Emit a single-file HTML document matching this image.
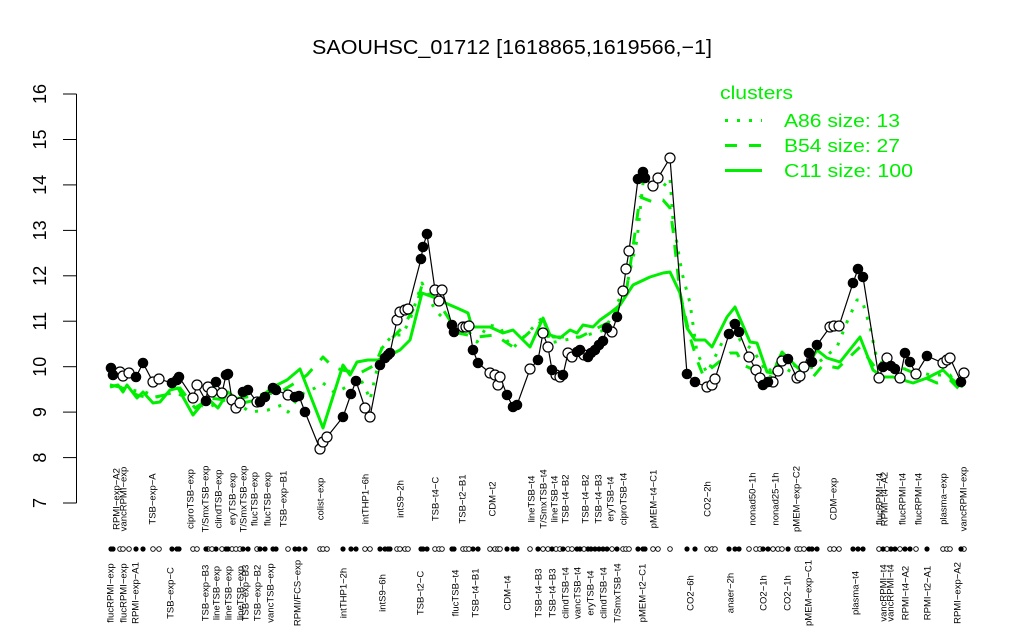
<!DOCTYPE html>
<html><head><meta charset="utf-8"><style>
html,body{margin:0;padding:0;background:#fff;}
svg{display:block;font-family:"Liberation Sans",Arial,sans-serif;}
</style></head><body>
<svg width="1024" height="640" viewBox="0 0 1024 640" xmlns="http://www.w3.org/2000/svg">
<rect width="1024" height="640" fill="#fff"/>
<text x="512" y="54" font-size="20" text-anchor="middle" textLength="400" lengthAdjust="spacingAndGlyphs" fill="#000">SAOUHSC_01712 [1618865,1619566,−1]</text>
<!-- y axis -->
<g stroke="#000" stroke-width="1" fill="none">
<line x1="76.5" y1="94" x2="76.5" y2="503"/>
<line x1="63" y1="503" x2="76.5" y2="503"/>
<line x1="63" y1="457.6" x2="76.5" y2="457.6"/>
<line x1="63" y1="412.1" x2="76.5" y2="412.1"/>
<line x1="63" y1="366.7" x2="76.5" y2="366.7"/>
<line x1="63" y1="321.2" x2="76.5" y2="321.2"/>
<line x1="63" y1="275.8" x2="76.5" y2="275.8"/>
<line x1="63" y1="230.4" x2="76.5" y2="230.4"/>
<line x1="63" y1="184.9" x2="76.5" y2="184.9"/>
<line x1="63" y1="139.5" x2="76.5" y2="139.5"/>
<line x1="63" y1="94" x2="76.5" y2="94"/>
</g>
<g font-size="18" fill="#000" text-anchor="middle">
<text transform="translate(46,503) rotate(-90)">7</text>
<text transform="translate(46,457.6) rotate(-90)">8</text>
<text transform="translate(46,412.1) rotate(-90)">9</text>
<text transform="translate(46,366.7) rotate(-90)">10</text>
<text transform="translate(46,321.2) rotate(-90)">11</text>
<text transform="translate(46,275.8) rotate(-90)">12</text>
<text transform="translate(46,230.4) rotate(-90)">13</text>
<text transform="translate(46,184.9) rotate(-90)">14</text>
<text transform="translate(46,139.5) rotate(-90)">15</text>
<text transform="translate(46,94) rotate(-90)">16</text>
</g>
<!-- green cluster lines -->
<g fill="none" stroke="#00ee00" stroke-width="3" stroke-linejoin="round">
<polyline stroke-dasharray="3 9" points="110,385 130,390 145,392 157,397 175,392 190,400 207,408 225,400 240,405 250,412 268,410 282,405 288,412 300,395 315,388 323,383 335,393 350,385 360,378 367,392 370,400 382,347 393,335 402,335 410,320 422,283 435,310 445,320 465,327 477,342 488,325 500,327 508,342 513,348 543,317 550,343 580,337 605,330 628,280 637,240 643,183 663,187 670,178 673,220 682,273 690,303 697,353 707,373 720,347 732,320 740,340 753,350 767,373 777,363 793,373 813,367 837,347 847,322 857,300 862,300 870,327 877,360 890,367 913,370 930,375 950,375 962,393"/>
<polyline stroke-dasharray="12 12" points="110,385 125,388 137,395 150,398 165,395 180,388 195,408 210,398 225,400 240,398 260,395 280,392 300,380 307,375 323,357 333,367 342,370 360,373 375,365 382,348 403,327 417,303 422,285 437,300 458,333 477,337 495,335 513,347 543,320 553,337 580,337 613,320 627,287 633,247 640,197 653,202 663,200 670,208 673,230 680,293 690,337 697,360 703,375 730,353 737,353 743,365 750,368 767,383 780,357 797,367 813,377 823,365 838,368 860,347 877,370 887,363 907,370 937,383 950,380 963,393"/>
<polyline points="110,387 118,385 123,392 127,385 137,398 143,392 153,403 160,402 170,390 178,388 193,415 207,398 218,408 228,392 242,403 257,400 273,387 287,380 300,369 323,428 343,365 350,375 357,362 368,360 378,360 390,355 400,350 410,340 422,293 433,297 443,302 457,308 468,313 472,327 490,327 503,333 513,330 530,347 543,318 550,335 560,338 570,330 577,333 583,325 593,327 600,320 610,313 620,305 633,285 650,277 663,273 670,272 680,293 687,328 695,340 705,340 712,347 727,317 735,307 750,342 757,343 767,372 773,373 782,352 790,360 803,373 817,350 827,358 840,362 860,337 873,370 883,377 893,377 913,383 927,378 943,370 953,380 963,387"/>
</g>
<!-- black series line -->
<polyline fill="none" stroke="#000" stroke-width="1.2" points="111,368 113,375 120,372 123,376 129,373 136,377 143,363 153,382 159,379 172,383 177,380 179,377 193,398 197,385 206,401 208,387 212,392 216,382 222,393 226,375 228,374 232,400 236,408 240,403 243,392 248,390 257,402 260,402 265,397 273,388 276,390 288,395 295,397 299,396 305,412 320,449 323,442 327,437 343,417 351,394 356,381 365,408 370,417 380,365 385,358 388,355 390,353 397,320 400,312 405,310 408,309 421,259 423,247 427,234 435,290 439,301 442,290 452,325 454,332 463,327 466,327 469,326 473,350 478,363 490,373 495,375 498,385 500,377 507,395 513,407 517,405 530,369 538,360 543,333 548,347 552,370 556,375 560,377 563,375 568,353 572,357 577,352 580,350 584,355 588,357 591,353 595,350 599,345 603,341 607,328 612,332 617,317 623,291 626,269 629,251 638,179 643,172 645,178 653,186 658,178 670,158 687,374 695,382 707,387 712,385 715,379 729,334 735,324 739,332 749,357 756,370 760,378 763,385 768,382 773,382 778,371 782,361 788,359 797,378 800,376 804,367 809,353 812,362 817,345 830,327 834,326 839,326 853,283 858,269 863,277 879,378 883,367 887,358 891,366 895,369 900,378 905,353 910,362 916,374 927,356 943,363 947,360 950,358 961,382 964,373"/>
<!-- open points -->
<g fill="#fff" stroke="#000" stroke-width="1.2">
<circle cx="120" cy="372" r="5"/><circle cx="123" cy="376" r="5"/><circle cx="129" cy="373" r="5"/><circle cx="153" cy="382" r="5"/><circle cx="159" cy="379" r="5"/><circle cx="193" cy="398" r="5"/><circle cx="197" cy="385" r="5"/><circle cx="208" cy="387" r="5"/><circle cx="212" cy="392" r="5"/><circle cx="222" cy="393" r="5"/><circle cx="232" cy="400" r="5"/><circle cx="236" cy="408" r="5"/><circle cx="240" cy="403" r="5"/><circle cx="257" cy="402" r="5"/><circle cx="288" cy="395" r="5"/><circle cx="320" cy="449" r="5"/><circle cx="323" cy="442" r="5"/><circle cx="327" cy="437" r="5"/><circle cx="365" cy="408" r="5"/><circle cx="370" cy="417" r="5"/><circle cx="397" cy="320" r="5"/><circle cx="400" cy="312" r="5"/><circle cx="405" cy="310" r="5"/><circle cx="408" cy="309" r="5"/><circle cx="435" cy="290" r="5"/><circle cx="439" cy="301" r="5"/><circle cx="442" cy="290" r="5"/><circle cx="463" cy="327" r="5"/><circle cx="466" cy="327" r="5"/><circle cx="469" cy="326" r="5"/><circle cx="490" cy="373" r="5"/><circle cx="495" cy="375" r="5"/><circle cx="498" cy="385" r="5"/><circle cx="500" cy="377" r="5"/><circle cx="530" cy="369" r="5"/><circle cx="543" cy="333" r="5"/><circle cx="548" cy="347" r="5"/><circle cx="556" cy="375" r="5"/><circle cx="560" cy="377" r="5"/><circle cx="568" cy="353" r="5"/><circle cx="572" cy="357" r="5"/><circle cx="584" cy="355" r="5"/><circle cx="612" cy="332" r="5"/><circle cx="623" cy="291" r="5"/><circle cx="626" cy="269" r="5"/><circle cx="629" cy="251" r="5"/><circle cx="653" cy="186" r="5"/><circle cx="658" cy="178" r="5"/><circle cx="670" cy="158" r="5"/><circle cx="707" cy="387" r="5"/><circle cx="712" cy="385" r="5"/><circle cx="715" cy="379" r="5"/><circle cx="749" cy="357" r="5"/><circle cx="756" cy="370" r="5"/><circle cx="760" cy="378" r="5"/><circle cx="773" cy="382" r="5"/><circle cx="778" cy="371" r="5"/><circle cx="782" cy="361" r="5"/><circle cx="797" cy="378" r="5"/><circle cx="800" cy="376" r="5"/><circle cx="804" cy="367" r="5"/><circle cx="830" cy="327" r="5"/><circle cx="834" cy="326" r="5"/><circle cx="839" cy="326" r="5"/><circle cx="879" cy="378" r="5"/><circle cx="887" cy="358" r="5"/><circle cx="900" cy="378" r="5"/><circle cx="916" cy="374" r="5"/><circle cx="943" cy="363" r="5"/><circle cx="947" cy="360" r="5"/><circle cx="950" cy="358" r="5"/><circle cx="964" cy="373" r="5"/>
</g>
<!-- filled points -->
<g fill="#000">
<circle cx="111" cy="368" r="5.3"/><circle cx="113" cy="375" r="5.3"/><circle cx="136" cy="377" r="5.3"/><circle cx="143" cy="363" r="5.3"/><circle cx="172" cy="383" r="5.3"/><circle cx="177" cy="380" r="5.3"/><circle cx="179" cy="377" r="5.3"/><circle cx="206" cy="401" r="5.3"/><circle cx="216" cy="382" r="5.3"/><circle cx="226" cy="375" r="5.3"/><circle cx="228" cy="374" r="5.3"/><circle cx="243" cy="392" r="5.3"/><circle cx="248" cy="390" r="5.3"/><circle cx="260" cy="402" r="5.3"/><circle cx="265" cy="397" r="5.3"/><circle cx="273" cy="388" r="5.3"/><circle cx="276" cy="390" r="5.3"/><circle cx="295" cy="397" r="5.3"/><circle cx="299" cy="396" r="5.3"/><circle cx="305" cy="412" r="5.3"/><circle cx="343" cy="417" r="5.3"/><circle cx="351" cy="394" r="5.3"/><circle cx="356" cy="381" r="5.3"/><circle cx="380" cy="365" r="5.3"/><circle cx="385" cy="358" r="5.3"/><circle cx="388" cy="355" r="5.3"/><circle cx="390" cy="353" r="5.3"/><circle cx="421" cy="259" r="5.3"/><circle cx="423" cy="247" r="5.3"/><circle cx="427" cy="234" r="5.3"/><circle cx="452" cy="325" r="5.3"/><circle cx="454" cy="332" r="5.3"/><circle cx="473" cy="350" r="5.3"/><circle cx="478" cy="363" r="5.3"/><circle cx="507" cy="395" r="5.3"/><circle cx="513" cy="407" r="5.3"/><circle cx="517" cy="405" r="5.3"/><circle cx="538" cy="360" r="5.3"/><circle cx="552" cy="370" r="5.3"/><circle cx="563" cy="375" r="5.3"/><circle cx="577" cy="352" r="5.3"/><circle cx="580" cy="350" r="5.3"/><circle cx="588" cy="357" r="5.3"/><circle cx="591" cy="353" r="5.3"/><circle cx="595" cy="350" r="5.3"/><circle cx="599" cy="345" r="5.3"/><circle cx="603" cy="341" r="5.3"/><circle cx="607" cy="328" r="5.3"/><circle cx="617" cy="317" r="5.3"/><circle cx="638" cy="179" r="5.3"/><circle cx="643" cy="172" r="5.3"/><circle cx="645" cy="178" r="5.3"/><circle cx="687" cy="374" r="5.3"/><circle cx="695" cy="382" r="5.3"/><circle cx="729" cy="334" r="5.3"/><circle cx="735" cy="324" r="5.3"/><circle cx="739" cy="332" r="5.3"/><circle cx="763" cy="385" r="5.3"/><circle cx="768" cy="382" r="5.3"/><circle cx="788" cy="359" r="5.3"/><circle cx="809" cy="353" r="5.3"/><circle cx="812" cy="362" r="5.3"/><circle cx="817" cy="345" r="5.3"/><circle cx="853" cy="283" r="5.3"/><circle cx="858" cy="269" r="5.3"/><circle cx="863" cy="277" r="5.3"/><circle cx="883" cy="367" r="5.3"/><circle cx="891" cy="366" r="5.3"/><circle cx="895" cy="369" r="5.3"/><circle cx="905" cy="353" r="5.3"/><circle cx="910" cy="362" r="5.3"/><circle cx="927" cy="356" r="5.3"/><circle cx="961" cy="382" r="5.3"/>
</g>
<!-- bottom marker row -->
<g fill="#fff" stroke="#000" stroke-width="0.9">
<circle cx="120" cy="549" r="2.3"/><circle cx="123" cy="549" r="2.3"/><circle cx="129" cy="549" r="2.3"/><circle cx="153" cy="549" r="2.3"/><circle cx="159" cy="549" r="2.3"/><circle cx="193" cy="549" r="2.3"/><circle cx="197" cy="549" r="2.3"/><circle cx="208" cy="549" r="2.3"/><circle cx="212" cy="549" r="2.3"/><circle cx="222" cy="549" r="2.3"/><circle cx="232" cy="549" r="2.3"/><circle cx="236" cy="549" r="2.3"/><circle cx="240" cy="549" r="2.3"/><circle cx="257" cy="549" r="2.3"/><circle cx="288" cy="549" r="2.3"/><circle cx="320" cy="549" r="2.3"/><circle cx="323" cy="549" r="2.3"/><circle cx="327" cy="549" r="2.3"/><circle cx="365" cy="549" r="2.3"/><circle cx="370" cy="549" r="2.3"/><circle cx="397" cy="549" r="2.3"/><circle cx="400" cy="549" r="2.3"/><circle cx="405" cy="549" r="2.3"/><circle cx="408" cy="549" r="2.3"/><circle cx="435" cy="549" r="2.3"/><circle cx="439" cy="549" r="2.3"/><circle cx="442" cy="549" r="2.3"/><circle cx="463" cy="549" r="2.3"/><circle cx="466" cy="549" r="2.3"/><circle cx="469" cy="549" r="2.3"/><circle cx="490" cy="549" r="2.3"/><circle cx="495" cy="549" r="2.3"/><circle cx="498" cy="549" r="2.3"/><circle cx="500" cy="549" r="2.3"/><circle cx="530" cy="549" r="2.3"/><circle cx="543" cy="549" r="2.3"/><circle cx="548" cy="549" r="2.3"/><circle cx="556" cy="549" r="2.3"/><circle cx="560" cy="549" r="2.3"/><circle cx="568" cy="549" r="2.3"/><circle cx="572" cy="549" r="2.3"/><circle cx="584" cy="549" r="2.3"/><circle cx="612" cy="549" r="2.3"/><circle cx="623" cy="549" r="2.3"/><circle cx="626" cy="549" r="2.3"/><circle cx="629" cy="549" r="2.3"/><circle cx="653" cy="549" r="2.3"/><circle cx="658" cy="549" r="2.3"/><circle cx="670" cy="549" r="2.3"/><circle cx="707" cy="549" r="2.3"/><circle cx="712" cy="549" r="2.3"/><circle cx="715" cy="549" r="2.3"/><circle cx="749" cy="549" r="2.3"/><circle cx="756" cy="549" r="2.3"/><circle cx="760" cy="549" r="2.3"/><circle cx="773" cy="549" r="2.3"/><circle cx="778" cy="549" r="2.3"/><circle cx="782" cy="549" r="2.3"/><circle cx="797" cy="549" r="2.3"/><circle cx="800" cy="549" r="2.3"/><circle cx="804" cy="549" r="2.3"/><circle cx="830" cy="549" r="2.3"/><circle cx="834" cy="549" r="2.3"/><circle cx="839" cy="549" r="2.3"/><circle cx="879" cy="549" r="2.3"/><circle cx="887" cy="549" r="2.3"/><circle cx="900" cy="549" r="2.3"/><circle cx="916" cy="549" r="2.3"/><circle cx="943" cy="549" r="2.3"/><circle cx="947" cy="549" r="2.3"/><circle cx="950" cy="549" r="2.3"/><circle cx="964" cy="549" r="2.3"/>
</g>
<g fill="#000">
<circle cx="111" cy="549" r="2.6"/><circle cx="113" cy="549" r="2.6"/><circle cx="136" cy="549" r="2.6"/><circle cx="143" cy="549" r="2.6"/><circle cx="172" cy="549" r="2.6"/><circle cx="177" cy="549" r="2.6"/><circle cx="179" cy="549" r="2.6"/><circle cx="206" cy="549" r="2.6"/><circle cx="216" cy="549" r="2.6"/><circle cx="226" cy="549" r="2.6"/><circle cx="228" cy="549" r="2.6"/><circle cx="243" cy="549" r="2.6"/><circle cx="248" cy="549" r="2.6"/><circle cx="260" cy="549" r="2.6"/><circle cx="265" cy="549" r="2.6"/><circle cx="273" cy="549" r="2.6"/><circle cx="276" cy="549" r="2.6"/><circle cx="295" cy="549" r="2.6"/><circle cx="299" cy="549" r="2.6"/><circle cx="305" cy="549" r="2.6"/><circle cx="343" cy="549" r="2.6"/><circle cx="351" cy="549" r="2.6"/><circle cx="356" cy="549" r="2.6"/><circle cx="380" cy="549" r="2.6"/><circle cx="385" cy="549" r="2.6"/><circle cx="388" cy="549" r="2.6"/><circle cx="390" cy="549" r="2.6"/><circle cx="421" cy="549" r="2.6"/><circle cx="423" cy="549" r="2.6"/><circle cx="427" cy="549" r="2.6"/><circle cx="452" cy="549" r="2.6"/><circle cx="454" cy="549" r="2.6"/><circle cx="473" cy="549" r="2.6"/><circle cx="478" cy="549" r="2.6"/><circle cx="507" cy="549" r="2.6"/><circle cx="513" cy="549" r="2.6"/><circle cx="517" cy="549" r="2.6"/><circle cx="538" cy="549" r="2.6"/><circle cx="552" cy="549" r="2.6"/><circle cx="563" cy="549" r="2.6"/><circle cx="577" cy="549" r="2.6"/><circle cx="580" cy="549" r="2.6"/><circle cx="588" cy="549" r="2.6"/><circle cx="591" cy="549" r="2.6"/><circle cx="595" cy="549" r="2.6"/><circle cx="599" cy="549" r="2.6"/><circle cx="603" cy="549" r="2.6"/><circle cx="607" cy="549" r="2.6"/><circle cx="617" cy="549" r="2.6"/><circle cx="638" cy="549" r="2.6"/><circle cx="643" cy="549" r="2.6"/><circle cx="645" cy="549" r="2.6"/><circle cx="687" cy="549" r="2.6"/><circle cx="695" cy="549" r="2.6"/><circle cx="729" cy="549" r="2.6"/><circle cx="735" cy="549" r="2.6"/><circle cx="739" cy="549" r="2.6"/><circle cx="763" cy="549" r="2.6"/><circle cx="768" cy="549" r="2.6"/><circle cx="788" cy="549" r="2.6"/><circle cx="809" cy="549" r="2.6"/><circle cx="812" cy="549" r="2.6"/><circle cx="817" cy="549" r="2.6"/><circle cx="853" cy="549" r="2.6"/><circle cx="858" cy="549" r="2.6"/><circle cx="863" cy="549" r="2.6"/><circle cx="883" cy="549" r="2.6"/><circle cx="891" cy="549" r="2.6"/><circle cx="895" cy="549" r="2.6"/><circle cx="905" cy="549" r="2.6"/><circle cx="910" cy="549" r="2.6"/><circle cx="927" cy="549" r="2.6"/><circle cx="961" cy="549" r="2.6"/>
</g>
<!-- upper labels -->
<g font-size="9.5" fill="#000" text-anchor="middle">
<text transform="translate(119.5,499) rotate(-90)">RPMI−exp−A2</text>
<text transform="translate(126.5,499) rotate(-90)">vancRPMI−exp</text>
<text transform="translate(155.5,499) rotate(-90)">TSB−exp−A</text>
<text transform="translate(193.5,499) rotate(-90)">ciproTSB−exp</text>
<text transform="translate(208.5,499) rotate(-90)">T/SmxTSB−exp</text>
<text transform="translate(221.5,499) rotate(-90)">clindTSB−exp</text>
<text transform="translate(235.5,499) rotate(-90)">eryTSB−exp</text>
<text transform="translate(246.5,499) rotate(-90)">T/SmxTSB−exp</text>
<text transform="translate(257.5,499) rotate(-90)">flucTSB−exp</text>
<text transform="translate(270.5,499) rotate(-90)">flucTSB−exp</text>
<text transform="translate(286.5,499) rotate(-90)">TSB−exp−B1</text>
<text transform="translate(323.5,499) rotate(-90)">colist−exp</text>
<text transform="translate(368.5,499) rotate(-90)">intTHP1−6h</text>
<text transform="translate(403.5,499) rotate(-90)">intS9−2h</text>
<text transform="translate(438.5,499) rotate(-90)">TSB−t4−C</text>
<text transform="translate(465.5,499) rotate(-90)">TSB−t2−B1</text>
<text transform="translate(495.5,499) rotate(-90)">CDM−t2</text>
<text transform="translate(534.5,499) rotate(-90)">lineTSB−t4</text>
<text transform="translate(546.5,499) rotate(-90)">T/SmxTSB−t4</text>
<text transform="translate(557.5,499) rotate(-90)">lineTSB−t4</text>
<text transform="translate(568.5,499) rotate(-90)">TSB−t4−B2</text>
<text transform="translate(588.5,499) rotate(-90)">TSB−t4−B2</text>
<text transform="translate(601.5,499) rotate(-90)">TSB−t4−B3</text>
<text transform="translate(613.5,499) rotate(-90)">eryTSB−t4</text>
<text transform="translate(626.5,499) rotate(-90)">ciproTSB−t4</text>
<text transform="translate(656.5,499) rotate(-90)">pMEM−t4−C1</text>
<text transform="translate(710.5,499) rotate(-90)">CO2−2h</text>
<text transform="translate(755.5,499) rotate(-90)">nonad50−1h</text>
<text transform="translate(778.5,499) rotate(-90)">nonad25−1h</text>
<text transform="translate(799.5,499) rotate(-90)">pMEM−exp−C2</text>
<text transform="translate(836.5,499) rotate(-90)">CDM−exp</text>
<text transform="translate(882.5,499) rotate(-90)">flucRPMI−t4</text>
<text transform="translate(887.5,499) rotate(-90)">RPMI−t4−A2</text>
<text transform="translate(905.5,499) rotate(-90)">flucRPMI−t4</text>
<text transform="translate(921.5,499) rotate(-90)">flucRPMI−t4</text>
<text transform="translate(946.5,499) rotate(-90)">plasma−exp</text>
<text transform="translate(966.5,499) rotate(-90)">vancRPMI−exp</text>
</g>
<!-- lower labels -->
<g font-size="9.5" fill="#000" text-anchor="middle">
<text transform="translate(113.5,593) rotate(-90)">flucRPMI−exp</text>
<text transform="translate(126.5,593) rotate(-90)">flucRPMI−exp</text>
<text transform="translate(138.5,593) rotate(-90)">RPMI−exp−A1</text>
<text transform="translate(173.5,593) rotate(-90)">TSB−exp−C</text>
<text transform="translate(208.5,593) rotate(-90)">TSB−exp−B3</text>
<text transform="translate(219.5,593) rotate(-90)">lineTSB−exp</text>
<text transform="translate(231.5,593) rotate(-90)">lineTSB−exp</text>
<text transform="translate(243.5,593) rotate(-90)">lineTSB−exp</text>
<text transform="translate(248.5,593) rotate(-90)">TSB−exp−B3</text>
<text transform="translate(260.5,593) rotate(-90)">TSB−exp−B2</text>
<text transform="translate(273.5,593) rotate(-90)">vancTSB−exp</text>
<text transform="translate(300.5,593) rotate(-90)">RPMI/FCS−exp</text>
<text transform="translate(346.5,593) rotate(-90)">intTHP1−2h</text>
<text transform="translate(385.5,593) rotate(-90)">intS9−6h</text>
<text transform="translate(423.5,593) rotate(-90)">TSB−t2−C</text>
<text transform="translate(458.5,593) rotate(-90)">flucTSB−t4</text>
<text transform="translate(478.5,593) rotate(-90)">TSB−t4−B1</text>
<text transform="translate(510.5,593) rotate(-90)">CDM−t4</text>
<text transform="translate(541.5,593) rotate(-90)">TSB−t4−B3</text>
<text transform="translate(555.5,593) rotate(-90)">TSB−t4−B3</text>
<text transform="translate(568.5,593) rotate(-90)">clindTSB−t4</text>
<text transform="translate(580.5,593) rotate(-90)">vancTSB−t4</text>
<text transform="translate(593.5,593) rotate(-90)">eryTSB−t4</text>
<text transform="translate(606.5,593) rotate(-90)">clindTSB−t4</text>
<text transform="translate(620.5,593) rotate(-90)">T/SmxTSB−t4</text>
<text transform="translate(645.5,593) rotate(-90)">pMEM−t2−C1</text>
<text transform="translate(693.5,593) rotate(-90)">CO2−6h</text>
<text transform="translate(733.5,593) rotate(-90)">anaer−2h</text>
<text transform="translate(766.5,593) rotate(-90)">CO2−1h</text>
<text transform="translate(790.5,593) rotate(-90)">CO2−1h</text>
<text transform="translate(811.5,593) rotate(-90)">pMEM−exp−C1</text>
<text transform="translate(858.5,593) rotate(-90)">plasma−t4</text>
<text transform="translate(886.5,593) rotate(-90)">vancRPMI−t4</text>
<text transform="translate(893.5,593) rotate(-90)">vancRPMI−t4</text>
<text transform="translate(908.5,593) rotate(-90)">RPMI−t4−A2</text>
<text transform="translate(930.5,593) rotate(-90)">RPMI−t2−A1</text>
<text transform="translate(960.5,593) rotate(-90)">RPMI−exp−A2</text>
</g>
<!-- legend -->
<g fill="#00ee00" font-size="18">
<text x="720" y="99" textLength="73" lengthAdjust="spacingAndGlyphs">clusters</text>
<text x="784" y="127" textLength="116" lengthAdjust="spacingAndGlyphs">A86 size: 13</text>
<text x="784" y="152" textLength="116" lengthAdjust="spacingAndGlyphs">B54 size: 27</text>
<text x="784" y="177" textLength="129" lengthAdjust="spacingAndGlyphs">C11 size: 100</text>
</g>
<g stroke="#00ee00" stroke-width="3" fill="none">
<line x1="725" y1="120.5" x2="762" y2="120.5" stroke-dasharray="3 9"/>
<line x1="725" y1="145.5" x2="762" y2="145.5" stroke-dasharray="12 12"/>
<line x1="725" y1="170.5" x2="762" y2="170.5"/>
</g>
</svg>
</body></html>
